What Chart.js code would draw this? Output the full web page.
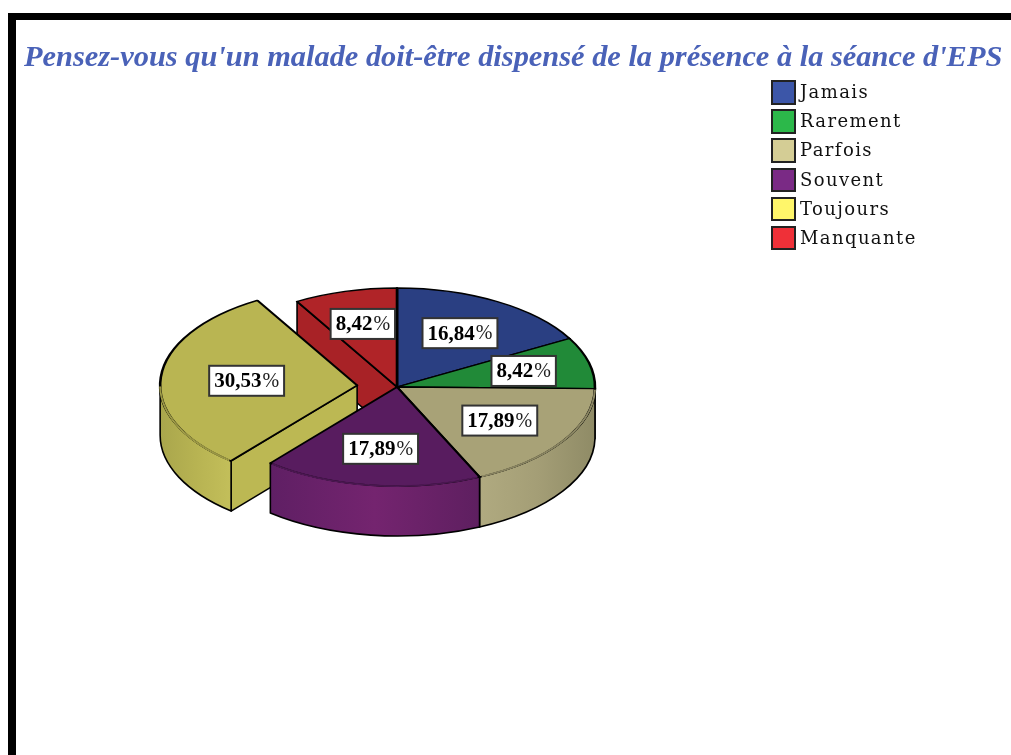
<!DOCTYPE html>
<html lang="fr">
<head>
<meta charset="utf-8">
<title>Pie</title>
<style>
html,body{margin:0;padding:0;width:1011px;height:755px;overflow:hidden;background:#fff}
#frameTop{position:absolute;left:8px;top:13px;right:0;height:7px;background:#000}
#frameLeft{position:absolute;left:8px;top:13px;bottom:0;width:8px;background:#000}
canvas{position:absolute;left:0;top:0}
#legend{position:absolute;left:771px;top:80px;font:18px "DejaVu Serif",serif;letter-spacing:1.4px;color:#111}
.row{display:flex;align-items:flex-start;height:29.2px}
.sw{box-sizing:border-box;width:25px;height:24.5px;border:2px solid #222;margin-right:4px;flex:none}
.row span{white-space:nowrap;line-height:24.5px}
</style>
<script src="https://cdn.jsdelivr.net/npm/chart.js@4"></script>
</head>
<body>
<div id="frameTop"></div><div id="frameLeft"></div>
<canvas id="c" width="1011" height="755"></canvas>
<div id="legend"></div>
<script>
const titleText = "Pensez-vous qu'un malade doit-être dispensé de la présence à la séance d'EPS";
const categories = ["Jamais","Rarement","Parfois","Souvent","Toujours","Manquante"];
const percentages = [16.84,8.42,17.89,17.89,30.53,8.42];
const sliceOffsets = [0,0,0,0,160,0];
const topColors = ["#2a3f82","#218a38","#a8a277","#581c5f","#b9b552","#b02428"];
const legendColors = ["#3c56a8","#2cb84a","#d4cd95","#7a2a85","#fff66a","#ef3038"];
const wallLeftColors = ["#2a3f82","#218a38","#b0aa80","#5f1f64","#a9a64c","#a82226"];
const wallMidColors = ["#2a3f82","#218a38","#a49e76","#74246f","#b7b352","#a82226"];
const wallRightColors = ["#2a3f82","#218a38","#8f8b66","#5e1f60","#c3bf5a","#a82226"];
const faceColors = ["#2a3f82","#218a38","#a8a277","#581c5f","#bcb853","#a82226"];
const labelRadii = [0.63,0.66,0.62,0.63,0.56,0.66];

const PIE = {x:397, y:387, radius:198, squash:0.5, depth:50};

function offsetInfo(el,p){
  const off=(el.options.offset||0)/4;
  return {off, grow:off*(1-Math.sin(Math.min(Math.PI,p.circumference)))};
}
function geo(chart){
  return chart.getDatasetMeta(0).data.map((el,i)=>{
    const p=el.getProps(['startAngle','endAngle','outerRadius','circumference']);
    const {off,grow}=offsetInfo(el,p);
    const mid=(p.startAngle+p.endAngle)/2;
    return {i,mid,a0:p.startAngle,a1:p.endAngle,
      X:PIE.x+Math.cos(mid)*off,Y:PIE.y+Math.sin(mid)*off*PIE.squash,
      r:p.outerRadius+grow};
  });
}
function rimPt(g,a){return [g.X+Math.cos(a)*g.r,g.Y+Math.sin(a)*g.r*PIE.squash];}
function face(ctx,g,a,color){
  const [px,py]=rimPt(g,a),d=PIE.depth;
  ctx.beginPath();ctx.moveTo(g.X,g.Y);ctx.lineTo(px,py);ctx.lineTo(px,py+d);ctx.lineTo(g.X,g.Y+d);ctx.closePath();
  ctx.fillStyle=color;ctx.fill();ctx.stroke();
}
function frontRange(g){
  const lo=Math.max(g.a0,0),hi=Math.min(g.a1,Math.PI);
  return hi-lo>0.03?[lo,hi]:null;
}
const pie3d={
  id:'pie3d',
  afterDatasetsUpdate(chart){
    // the library widens an exploded slice a little; keep it at the pie's radius
    chart.getDatasetMeta(0).data.forEach(el=>{
      const p=el.getProps(['circumference']);
      const {off,grow}=offsetInfo(el,p);
      if(off>0) el.outerRadius=PIE.radius-grow-1;
    });
  },
  beforeDatasetsDraw(chart){
    const ctx=chart.ctx;
    const gs=geo(chart).sort((a,b)=>(a.Y+Math.sin(a.mid)*a.r*.25)-(b.Y+Math.sin(b.mid)*b.r*.25));
    ctx.save();
    ctx.strokeStyle='#000';ctx.lineWidth=1.6;ctx.lineJoin='round';
    gs.forEach(g=>{
      if(Math.cos(g.a0)<0) face(ctx,g,g.a0,faceColors[g.i]);
      if(Math.cos(g.a1)>0) face(ctx,g,g.a1,faceColors[g.i]);
      const fr=frontRange(g);
      if(fr){
        const [lo,hi]=fr,[x1]=rimPt(g,lo),[x2]=rimPt(g,hi);
        const gr=ctx.createLinearGradient(Math.min(x1,x2),0,Math.max(x1,x2),0);
        gr.addColorStop(0,wallLeftColors[g.i]);
        gr.addColorStop(.5,wallMidColors[g.i]);
        gr.addColorStop(1,wallRightColors[g.i]);
        ctx.beginPath();
        ctx.ellipse(g.X,g.Y,g.r,g.r*PIE.squash,0,lo,hi);
        ctx.ellipse(g.X,g.Y+PIE.depth,g.r,g.r*PIE.squash,0,hi,lo,true);
        ctx.closePath();
        ctx.fillStyle=gr;ctx.fill();ctx.stroke();
      }
    });
    ctx.restore();
    const a=chart.chartArea,cx=(a.left+a.right)/2,cy=(a.top+a.bottom)/2;
    ctx.save();
    ctx.translate(PIE.x,PIE.y);ctx.scale(1,PIE.squash);ctx.translate(-cx,-cy);
  },
  afterDatasetsDraw(chart){
    const ctx=chart.ctx;
    ctx.restore();
    const gs=geo(chart);
    gs.forEach(g=>{
      const fr=frontRange(g);if(!fr) return;
      ctx.save();
      ctx.beginPath();ctx.ellipse(g.X,g.Y,g.r,g.r*PIE.squash,0,fr[0]+.012,fr[1]-.012);
      ctx.strokeStyle=topColors[g.i];ctx.lineWidth=1.8;ctx.stroke();
      ctx.strokeStyle='rgba(0,0,0,.28)';ctx.lineWidth=.8;ctx.stroke();
      ctx.restore();
    });
    gs.forEach(g=>{
      const f=labelRadii[g.i];
      const lx=g.X+Math.cos(g.mid)*PIE.radius*f,ly=g.Y+Math.sin(g.mid)*PIE.radius*f*PIE.squash;
      const num=percentages[g.i].toFixed(2).replace('.',','),pct='%';
      ctx.save();
      ctx.textBaseline='middle';ctx.textAlign='left';
      ctx.font='bold 21px "Liberation Serif",serif';
      const w1=ctx.measureText(num).width;
      ctx.font='20px "Liberation Serif",serif';
      const w2=ctx.measureText(pct).width;
      const tw=w1+w2+1,bw=tw+10,bh=30;
      ctx.fillStyle='#fff';ctx.fillRect(lx-bw/2,ly-bh/2,bw,bh);
      ctx.strokeStyle='#333';ctx.lineWidth=2;ctx.strokeRect(lx-bw/2,ly-bh/2,bw,bh);
      ctx.fillStyle='#000';
      ctx.font='bold 21px "Liberation Serif",serif';
      ctx.fillText(num,lx-tw/2,ly+1);
      ctx.font='20px "Liberation Serif",serif';ctx.fillStyle='#222';
      ctx.fillText(pct,lx-tw/2+w1+1,ly+1);
      ctx.restore();
    });
  }
};

new Chart(document.getElementById('c'),{
  type:'pie',
  data:{labels:categories,datasets:[{
    data:percentages,
    backgroundColor:topColors,
    borderColor:'#000',
    borderWidth:2.6,
    borderJoinStyle:'round',
    offset:sliceOffsets,
    clip:false
  }]},
  plugins:[pie3d],
  options:{
    responsive:false,
    animation:false,
    radius:PIE.radius,
    layout:{padding:{left:24,top:40,right:0,bottom:20}},
    plugins:{
      legend:{display:false},
      tooltip:{enabled:false},
      title:{display:true,text:titleText,align:'start',color:'#4a62b8',padding:0,
        font:{family:'"Liberation Serif",serif',size:30.4,style:'italic',weight:'bold'}}
    }
  }
});

const legendEl=document.getElementById('legend');
categories.forEach((c,i)=>{
  const r=document.createElement('div');r.className='row';
  const s=document.createElement('div');s.className='sw';s.style.background=legendColors[i];
  const t=document.createElement('span');t.textContent=c;
  r.append(s,t);legendEl.append(r);
});
</script>
</body>
</html>
